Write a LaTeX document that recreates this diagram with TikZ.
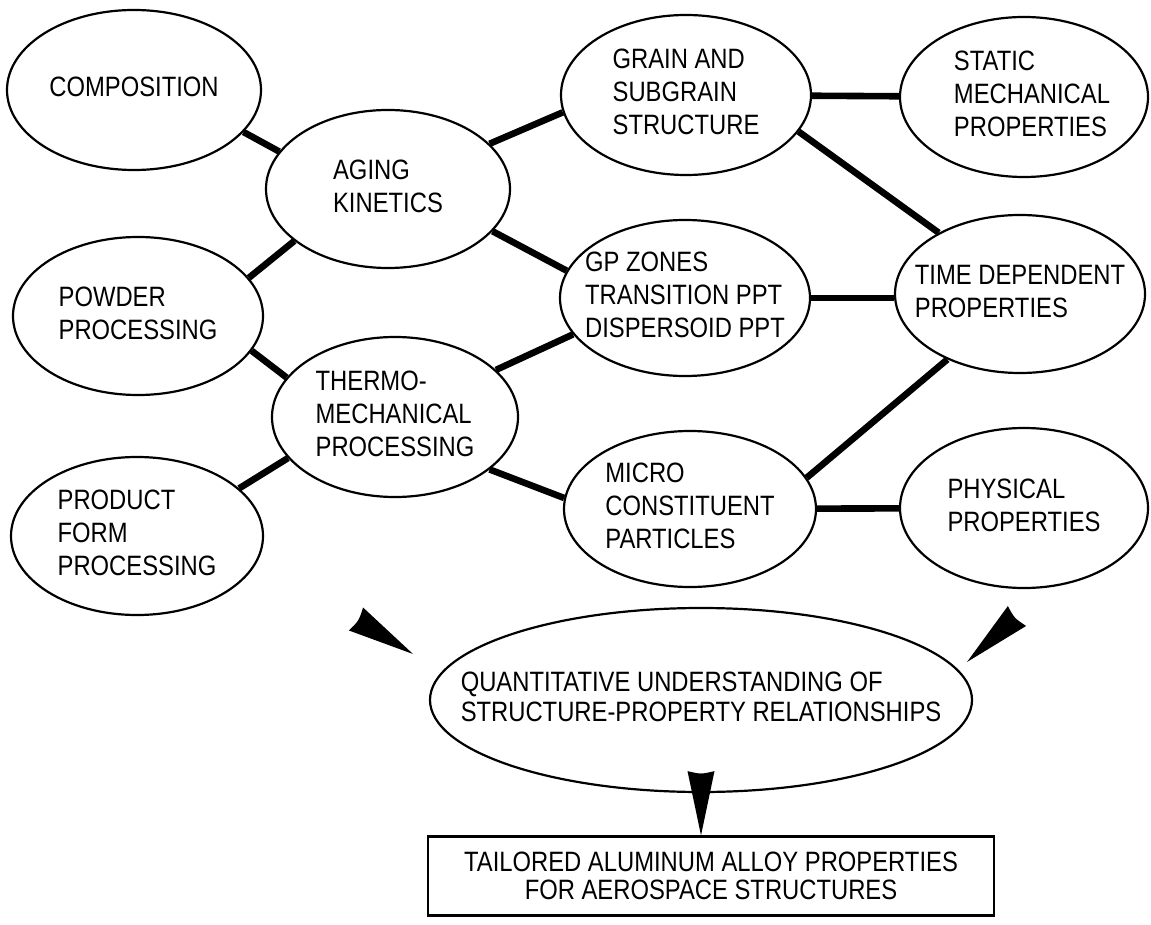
\documentclass[tikz,border=0pt]{standalone}
\usepackage{fontspec}
\setmainfont{Liberation Sans}[FakeStretch=0.85]
\usetikzlibrary{shapes.geometric,calc}

\newcommand{\lettering}{\fontsize{14}{16.5}\selectfont}
% text block that does not widen the ellipse around it
\newcommand{\blobtext}[1]{\makebox[0pt]{\begin{tabular}{@{}l@{}}#1\end{tabular}}}
% black wedge from a tail point to a tip
\newcommand{\wedgearrow}[2]{%
  \coordinate (w1) at ($(#1)!6.75pt!90:(#2)$);
  \coordinate (w2) at ($(#1)!6.75pt!-90:(#2)$);
  \fill (w1) -- (#2) -- (w2) .. controls ($(#1)!0.05!(#2)$) .. (w1) -- cycle;}

\begin{document}
\begin{tikzpicture}[x=0.5pt, y=-0.5pt,
        blob/.style={ellipse, draw, line width=1.1pt, inner sep=0pt, font=\lettering},
        link/.style={line width=3.3pt},
        goal/.style={rectangle, draw, line width=1.1pt, align=center, minimum width=283pt, minimum height=39.5pt, font=\fontsize{14}{14}\selectfont}
    ]
        \useasboundingbox (0,0) rectangle (1151,925);
        % Inputs
        \node[blob, minimum width=127pt, minimum height=80pt] (comp) at (134,90) {\blobtext{COMPOSITION}};
        \node[blob, minimum width=125pt, minimum height=79pt] (powder) at (138,316) {\blobtext{POWDER\\PROCESSING}};
        \node[blob, minimum width=126pt, minimum height=79pt] (product) at (137,536) {\blobtext{PRODUCT\\FORM\\PROCESSING}};
        % Processes
        \node[blob, minimum width=122pt, minimum height=79pt] (aging) at (388,189) {\blobtext{AGING\\KINETICS}};
        \node[blob, minimum width=123pt, minimum height=80pt] (thermo) at (395,417) {\blobtext{THERMO-\\MECHANICAL\\PROCESSING}};
        % Structure
        \node[blob, minimum width=125pt, minimum height=80pt] (grain) at (686,95) {\blobtext{GRAIN AND\\SUBGRAIN\\STRUCTURE}};
        \node[blob, minimum width=125pt, minimum height=78pt] (zones) at (685,298) {\blobtext{GP ZONES\\TRANSITION PPT\\DISPERSOID PPT}};
        \node[blob, minimum width=126pt, minimum height=78pt] (micro) at (690,509) {\blobtext{MICRO\\CONSTITUENT\\PARTICLES}};
        % Properties
        \node[blob, minimum width=124pt, minimum height=80pt] (static) at (1024,97) {\blobtext{\hspace{8pt}STATIC\\\hspace{8pt}MECHANICAL\\\hspace{8pt}PROPERTIES}};
        \node[blob, minimum width=125pt, minimum height=79pt] (time) at (1020,294) {\blobtext{TIME DEPENDENT\\PROPERTIES}};
        \node[blob, minimum width=124pt, minimum height=80pt] (phys) at (1024,508) {\blobtext{PHYSICAL\\PROPERTIES}};
        % Understanding and goal
        \node[blob, minimum width=271pt, minimum height=92pt, font=\fontsize{14}{15}\selectfont] (quant) at (701,700) {\blobtext{QUANTITATIVE UNDERSTANDING OF\\STRUCTURE-PROPERTY RELATIONSHIPS}};
        \node[goal] (goal) at (711,876) {TAILORED ALUMINUM ALLOY PROPERTIES\\FOR AEROSPACE STRUCTURES};
        % Links
        \draw[link] (comp.-21.6) -- (aging.161.6);
        \draw[link] (aging.209.6) -- (powder.19.2);
        \draw[link] (aging.24.9) -- (grain.188.3);
        \draw[link] (aging.-22.9) -- (zones.167.6);
        \draw[link] (powder.-17.8) -- (thermo.160.5);
        \draw[link] (thermo.201) -- (product.25);
        \draw[link] (thermo.25.4) -- (zones.198.3);
        \draw[link] (thermo.-29) -- (micro.175);
        \draw[link] (grain) -- (static);
        \draw[link] (grain.-18.1) -- (time.143.1);
        \draw[link] (zones.east) -- (zones.east -| time.west);
        \draw[link] (micro.15.8) -- (time.222.1);
        \draw[link] (micro) -- (phys);
        % Wedges
        \coordinate (ltail) at (356,619);
        \coordinate (ltip) at (413,654);
        \coordinate (rtail) at (1017,616);
        \coordinate (rtip) at (967,662);
        \coordinate (dtail) at ([yshift=11pt]quant.south);
        \coordinate (dtip) at (quant.south |- goal.north);
        \wedgearrow{ltail}{ltip}
        \wedgearrow{rtail}{rtip}
        \wedgearrow{dtail}{dtip}
    \end{tikzpicture}
\end{document}
